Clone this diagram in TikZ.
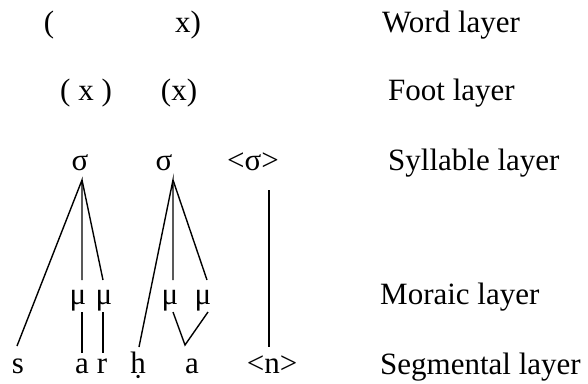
\documentclass[tikz,border=0pt]{standalone}
\usepackage{fontspec}
\setmainfont{Liberation Serif}
\begin{document}
\begin{tikzpicture}[x=1pt,y=-1pt,
  txt/.style={inner sep=0pt,anchor=base,font=\fontsize{31}{36}\selectfont},
  lbl/.style={inner sep=0pt,anchor=base west,font=\fontsize{31}{36}\selectfont},
  assoc/.style={line width=1.4pt}]
\useasboundingbox (0,0) rectangle (588,383);
% word layer
\node[txt] (w1) at (49,32) {(};
\node[txt] (w2) at (188,32) {x)};
\node[lbl] (lw) at (382,32) {Word layer};
% foot layer
\node[txt] (f1) at (86,100) {( x )};
\node[txt] (f2) at (179,100) {(x)};
\node[lbl] (lf) at (388,100) {Foot layer};
% syllable layer
\node[txt] (s1) at (80,170) {σ};
\node[txt] (s2) at (164,170) {σ};
\node[txt] (s3) at (253,170) {<σ>};
\node[lbl] (ls) at (388,170) {Syllable layer};
% moraic layer
\node[txt] (m1) at (78,304) {μ};
\node[txt] (m2) at (104,304) {μ};
\node[txt] (m3) at (170,304) {μ};
\node[txt] (m4) at (203,304) {μ};
\node[lbl] (lm) at (380,304) {Moraic layer};
% segmental layer
\node[txt] (g1) at (18,373) {s};
\node[txt] (g2) at (82,373) {a};
\node[txt] (g3) at (102,373) {r};
\node[txt] (g4) at (138,373) {ḥ};
\node[txt] (g5) at (192,373) {a};
\node[txt] (g6) at (272,373) {<n>};
\node[lbl] (lg) at (380,374) {Segmental layer};
% connection points
\coordinate (s1b) at (82,180);
\coordinate (s2b) at (173,180);
\coordinate (s3b) at (269,190);
\coordinate (m1t) at (82,280);
\coordinate (m2t) at (103,280);
\coordinate (m3t) at (173,280);
\coordinate (m4t) at (207,280);
\coordinate (m1b) at (82,312);
\coordinate (m2b) at (103,312);
\coordinate (m3b) at (173,312);
\coordinate (m4b) at (208,312);
\coordinate (g1t) at (17,346);
\coordinate (g2t) at (82,353);
\coordinate (g3t) at (103,353);
\coordinate (g4t) at (139,347);
\coordinate (g5t) at (185,345);
\coordinate (g6t) at (269,347);
% associations
\draw[assoc] (g1t) -- (s1b) -- (m1t);
\draw[assoc] (s1b) -- (m2t);
\draw[assoc] (m1b) -- (g2t);
\draw[assoc] (m2b) -- (g3t);
\draw[assoc] (g4t) -- (s2b) -- (m3t);
\draw[assoc] (s2b) -- (m4t);
\draw[assoc] (m3b) -- (g5t) -- (m4b);
\draw[assoc] (s3b) -- (g6t);
\end{tikzpicture}
\end{document}
